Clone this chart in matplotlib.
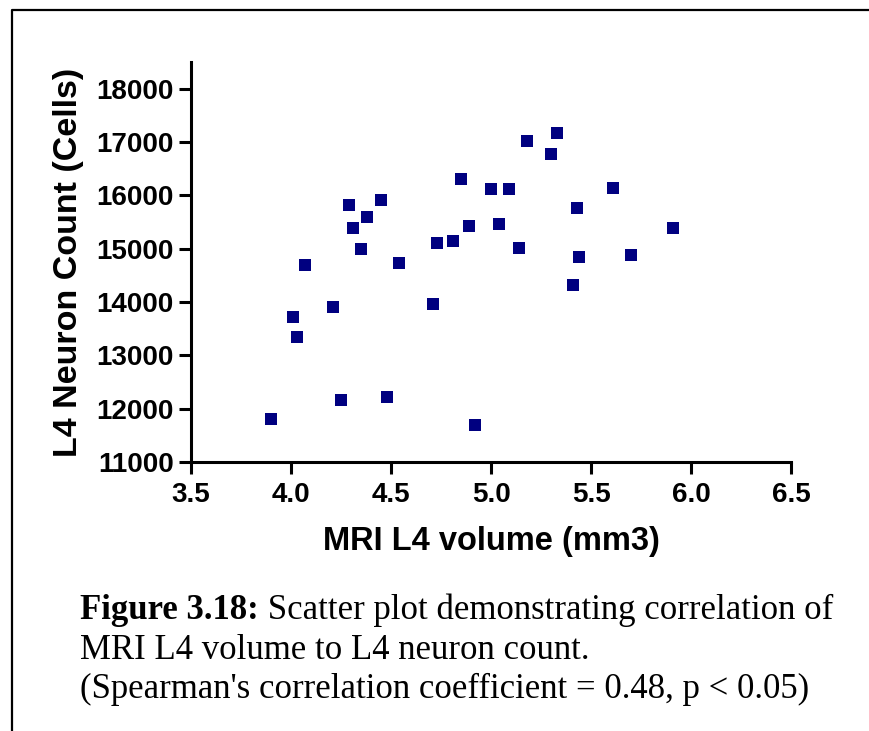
import matplotlib
matplotlib.use("Agg")
import matplotlib.pyplot as plt
from matplotlib.lines import Line2D

# MRI L4 volume (mm3) vs L4 neuron count
mri_volume = [3.90, 4.01, 4.03, 4.07, 4.21, 4.25, 4.29, 4.31, 4.35, 4.38,
              4.45, 4.48, 4.54, 4.71, 4.73, 4.81, 4.85, 4.89, 4.92, 5.00,
              5.04, 5.09, 5.14, 5.18, 5.30, 5.33, 5.41, 5.43, 5.44, 5.61,
              5.70, 5.91]
neuron_count = [11810, 13710, 13340, 14700, 13910, 12170, 15820, 15380, 15000, 15590,
                15910, 12210, 14740, 13960, 15110, 15140, 16310, 15420, 11700, 16120,
                15470, 16110, 15020, 17020, 16780, 17170, 14320, 15770, 14840, 16130,
                14880, 15380]

x_ticks = [3.5, 4.0, 4.5, 5.0, 5.5, 6.0, 6.5]
y_ticks = [11000, 12000, 13000, 14000, 15000, 16000, 17000, 18000]

caption_bold = "Figure 3.18:"
caption_rest = " Scatter plot demonstrating correlation of"
caption_lines = ["MRI L4 volume to L4 neuron count.",
                 "(Spearman's correlation coefficient = 0.48, p < 0.05)"]

plt.rcParams['font.family'] = ['Liberation Sans', 'DejaVu Sans']
plt.rcParams['font.weight'] = 'bold'

W, H = 870, 731
fig = plt.figure(figsize=(W / 100, H / 100), dpi=100)
ax = fig.add_axes([191 / W, 1 - 462 / H, 600 / W, (462 - 62) / H])

ax.scatter(mri_volume, neuron_count, marker='s', s=72, color='#000080',
           linewidths=0, clip_on=False, zorder=3)

ax.set_xlim(3.5, 6.5)
ax.set_ylim(11000, 18500)
ax.set_xticks(x_ticks)
ax.set_xticklabels([f"{v:.1f}" for v in x_ticks])
ax.set_yticks(y_ticks)
ax.set_yticklabels([str(v) for v in y_ticks])

for side in ['top', 'right']:
    ax.spines[side].set_visible(False)
for side in ['left', 'bottom']:
    ax.spines[side].set_linewidth(2.2)
ax.tick_params(direction='out', length=8.5, width=2.2, labelsize=20)
ax.tick_params(axis='x', pad=6)
ax.tick_params(axis='y', pad=4)

ax.set_xlabel("MRI L4 volume (mm3)", fontsize=23.5, fontweight='bold', labelpad=13)
ax.set_ylabel("L4 Neuron Count (Cells)", fontsize=24.5, fontweight='bold', labelpad=9)

# border around figure + caption
fig.add_artist(Line2D([12 / W, 12 / W, 1.0], [0.0, 1 - 10 / H, 1 - 10 / H],
                      transform=fig.transFigure, color='black', linewidth=1.6))

serif = ['Liberation Serif', 'DejaVu Serif']
cap_size = 25
t0 = fig.text(80 / W, 1 - 619 / H, caption_bold, fontsize=cap_size,
              fontweight='bold', family=serif, va='baseline')
ax.annotate(caption_rest, xy=(1, 0), xycoords=t0, va='bottom', ha='left',
            fontsize=cap_size, fontweight='normal', family=serif,
            annotation_clip=False)
for i, line in enumerate(caption_lines):
    fig.text(80 / W, 1 - (659 + 39 * i) / H, line, fontsize=cap_size,
             fontweight='normal', family=serif, va='baseline')

fig.savefig("out.png", dpi=100)
